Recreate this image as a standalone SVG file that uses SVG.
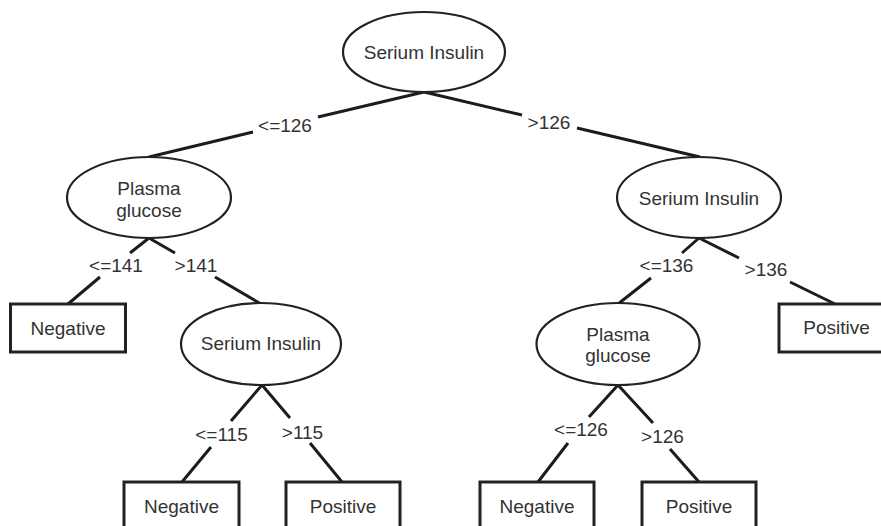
<svg xmlns="http://www.w3.org/2000/svg" width="881" height="526" viewBox="0 0 881 526">
  <style>
    text { font-family: "Liberation Sans", Arial, sans-serif; font-size: 19px; fill: #333; text-anchor: middle; }
    .split { fill: #fff; stroke: #222; stroke-width: 2.2; }
    .leaf { fill: #fff; stroke: #222; stroke-width: 3; }
    .edge { fill: none; stroke: #1c1c1c; stroke-width: 3; stroke-linecap: butt; }
  </style>
  <rect width="881" height="526" fill="#fff"/>

  <!-- branches, broken where the threshold labels sit -->
  <g id="connectors">
    <path class="edge" d="M424,92 L318,117 M253,132 L149,157"/>
    <path class="edge" d="M424,92 L522,115 M577,128 L700,157"/>
    <path class="edge" d="M149,238 L130,253 M100,277 L68,304"/>
    <path class="edge" d="M149,238 L175,253 M215,277 L261,304"/>
    <path class="edge" d="M262,385 L231,421 M211,447 L182,482"/>
    <path class="edge" d="M262,385 L290,418 M310,443 L342,482"/>
    <path class="edge" d="M699,238 L682,253 M651,278 L618,304"/>
    <path class="edge" d="M699,238 L739,258 M790,282 L835,304"/>
    <path class="edge" d="M618,385 L589,417 M568,443 L538,482"/>
    <path class="edge" d="M618,385 L653,423 M670,449 L699,482"/>
    <text x="285" y="131.5">&lt;=126</text>
    <text x="549" y="129">&gt;126</text>
    <text x="116" y="271.5">&lt;=141</text>
    <text x="196" y="271.5">&gt;141</text>
    <text x="221.5" y="441">&lt;=115</text>
    <text x="302.5" y="438.5">&gt;115</text>
    <text x="666.5" y="271.5">&lt;=136</text>
    <text x="766" y="276">&gt;136</text>
    <text x="581" y="435.5">&lt;=126</text>
    <text x="662.5" y="442.5">&gt;126</text>
  </g>

  <g id="root">
    <ellipse class="split" cx="424" cy="52" rx="81" ry="40"/>
    <text x="424" y="59">Serium Insulin</text>
  </g>

  <g id="plasma-left">
    <ellipse class="split" cx="149" cy="197.5" rx="82" ry="40.5"/>
    <text x="149" y="195">Plasma</text>
    <text x="149" y="216.5">glucose</text>
  </g>

  <g id="insulin-right">
    <ellipse class="split" cx="699" cy="197.5" rx="82" ry="40.5"/>
    <text x="699" y="205">Serium Insulin</text>
  </g>

  <g id="negative-1">
    <rect class="leaf" x="10.5" y="304" width="115" height="48"/>
    <text x="68" y="335">Negative</text>
  </g>

  <g id="insulin-left">
    <ellipse class="split" cx="261" cy="344" rx="80" ry="41"/>
    <text x="261" y="350">Serium Insulin</text>
  </g>

  <g id="plasma-right">
    <ellipse class="split" cx="618" cy="344" rx="81.5" ry="41"/>
    <text x="618" y="340.5">Plasma</text>
    <text x="618" y="361.5">glucose</text>
  </g>

  <g id="positive-1">
    <rect class="leaf" x="779" y="304" width="115" height="48"/>
    <text x="836.5" y="334">Positive</text>
  </g>

  <g id="negative-2">
    <rect class="leaf" x="124" y="482" width="115" height="48"/>
    <text x="181.5" y="513">Negative</text>
  </g>

  <g id="positive-2">
    <rect class="leaf" x="286" y="482" width="114" height="48"/>
    <text x="343" y="513">Positive</text>
  </g>

  <g id="negative-3">
    <rect class="leaf" x="480" y="482" width="114" height="48"/>
    <text x="537" y="512.5">Negative</text>
  </g>

  <g id="positive-3">
    <rect class="leaf" x="642" y="482" width="114" height="48"/>
    <text x="699" y="512.5">Positive</text>
  </g>
</svg>
